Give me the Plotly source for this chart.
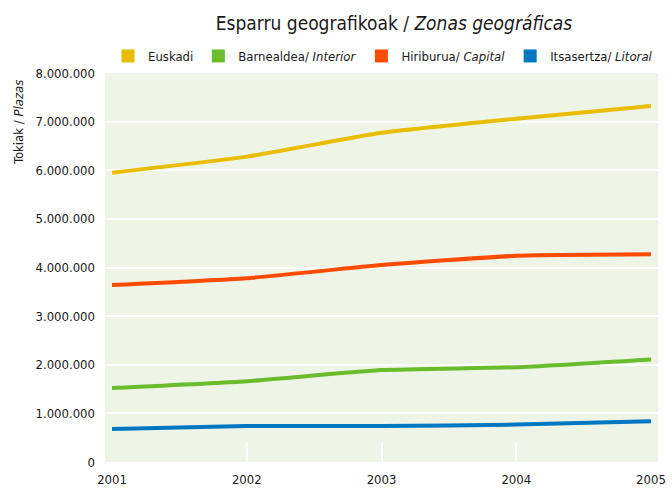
import plotly.graph_objects as go

years = [2001, 2002, 2003, 2004, 2005]
euskadi = [5950000, 6280000, 6770000, 7060000, 7320000]
interior = [1520000, 1660000, 1890000, 1950000, 2110000]
capital = [3640000, 3780000, 4050000, 4240000, 4270000]
litoral = [680000, 740000, 740000, 770000, 840000]

series_names = ["Euskadi", "Barnealdea/ <i>Interior</i>", "Hiriburua/ <i>Capital</i>", "Itsasertza/ <i>Litoral</i>"]
series_values = [euskadi, interior, capital, litoral]
colors = ["#E9BD00", "#69BC2C", "#FF4B00", "#0077C1"]

y_ticks = [0, 1000000, 2000000, 3000000, 4000000, 5000000, 6000000, 7000000, 8000000]
inner_years = years[1:-1]

FONT = "DejaVu Sans Condensed, Liberation Sans Narrow, Arial Narrow, sans-serif"
X_RANGE = [2000.948, 2005.052]

fig = go.Figure()
for name, vals, col in zip(series_names, series_values, colors):
    fig.add_trace(go.Scatter(x=years, y=vals, mode="lines", name=name,
                             line=dict(color=col, width=4, shape="spline", smoothing=0.5),
                             showlegend=False, hoverinfo="x+y"))
for name, col in zip(series_names, colors):
    fig.add_trace(go.Scatter(x=[None], y=[None], mode="markers", name=name,
                             marker=dict(symbol="square", size=13, color=col),
                             showlegend=True))
# empty helper trace so the tick-only overlay axis is drawn
fig.add_trace(go.Scatter(x=[None], y=[None], mode="markers", xaxis="x2", yaxis="y",
                         showlegend=False, hoverinfo="skip"))

fig.update_layout(
    width=672, height=488,
    margin=dict(l=105, r=14, t=73, b=26),
    paper_bgcolor="white",
    plot_bgcolor="#EEF4E6",
    separators=",.",
    font=dict(family=FONT, size=13, color="#1a1a1a"),
    title=dict(text="Esparru geografikoak / <i>Zonas geográficas</i>",
               x=394 / 672, xanchor="center",
               yref="container", y=1 - 17 / 488, yanchor="top",
               font=dict(family=FONT, size=19, color="#1a1a1a")),
    legend=dict(orientation="h", x=1.0, xanchor="right", y=1 + 17 / 389, yanchor="middle",
                font=dict(family=FONT, size=13), bgcolor="rgba(0,0,0,0)",
                itemclick=False, traceorder="normal"),
    xaxis=dict(range=X_RANGE, tickvals=years, ticktext=[str(y) for y in years],
               showgrid=False, zeroline=False, showline=False, automargin=False,
               ticks="", ticklabelstandoff=8,
               tickfont=dict(family=FONT, size=13)),
    xaxis2=dict(range=X_RANGE, overlaying="x", anchor="y", side="bottom",
                tickvals=inner_years, showticklabels=False,
                showgrid=False, zeroline=False, showline=False, automargin=False,
                ticks="inside", ticklen=20, tickcolor="white", tickwidth=2),
    yaxis=dict(range=[0, 8000000], tickvals=y_ticks, tickformat=",d",
               showgrid=True, gridcolor="white", gridwidth=2, zeroline=False, showline=False,
               automargin=False, ticks="", ticklabelstandoff=9,
               tickfont=dict(family=FONT, size=13)),
    annotations=[dict(text="Tokiak / <i>Plazas</i>", textangle=-90, showarrow=False,
                      xref="paper", yref="paper", x=(18 - 105) / 553, y=(462 - 123) / 389,
                      xanchor="center", yanchor="middle",
                      font=dict(family=FONT, size=13, color="#1a1a1a"))],
)

fig.write_html("out.html", config={"displayModeBar": False},
               post_script="document.body.style.margin='0';")
